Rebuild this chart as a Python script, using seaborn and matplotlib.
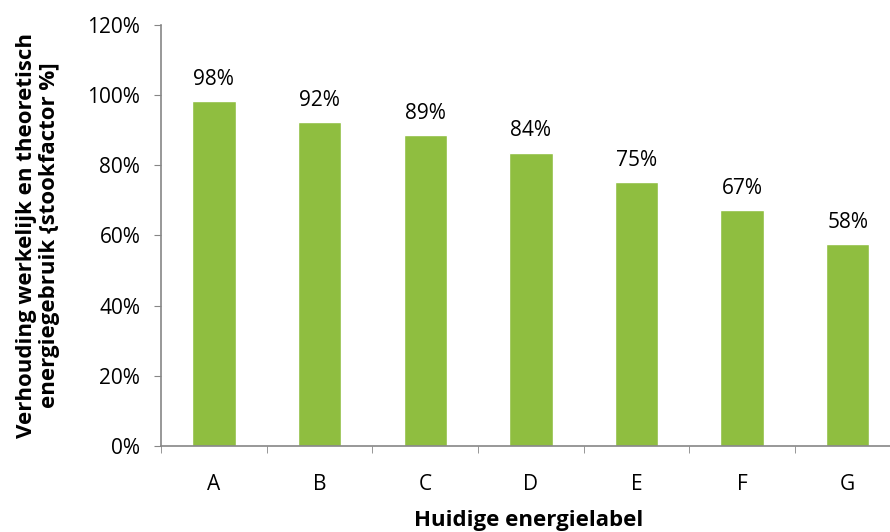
import seaborn as sns
import pandas as pd
import matplotlib.pyplot as plt
from matplotlib.ticker import PercentFormatter

labels = ['A', 'B', 'C', 'D', 'E', 'F', 'G']
values = [98.3, 92.3, 88.6, 83.6, 75.3, 67.3, 57.6]

df = pd.DataFrame({'label': labels, 'factor': values})

sns.set_style('white')
plt.rcParams['font.family'] = ['Open Sans', 'DejaVu Sans']
plt.rcParams['text.color'] = 'black'
plt.rcParams['axes.labelcolor'] = 'black'
plt.rcParams['xtick.color'] = 'black'
plt.rcParams['ytick.color'] = 'black'

fig = plt.figure(figsize=(8.9, 5.32), dpi=100)
ax = fig.add_axes([0.181, 0.162, 0.825, 0.791])
sns.barplot(data=df, x='label', y='factor', color='#8fbe40', width=0.41,
            saturation=1, ax=ax)

for i, v in enumerate(values):
    ax.text(i, v + 3.2, f'{round(v)}%', ha='center', va='bottom', fontsize=15)

ax.set_ylim(0, 120)
ax.set_yticks(range(0, 121, 20))
ax.yaxis.set_major_formatter(PercentFormatter(decimals=0))
ax.set_xlim(-0.5, 6.45)
ax.set_xticks([i - 0.5 for i in range(7)], minor=True)
ax.tick_params(axis='x', which='major', length=0, labelsize=15, pad=20)
ax.tick_params(axis='x', which='minor', length=5, color='#868686', direction='out')
ax.tick_params(axis='y', length=5, color='#868686', direction='out', labelsize=15, pad=10)
ax.xaxis.set_ticks_position('bottom')
ax.yaxis.set_ticks_position('left')

for s in ['top', 'right']:
    ax.spines[s].set_visible(False)
for s in ['left', 'bottom']:
    ax.spines[s].set_color('#868686')
    ax.spines[s].set_linewidth(1.2)

ax.set_xlabel('Huidige energielabel', fontsize=16, fontweight='bold', labelpad=11)
ax.set_ylabel('Verhouding werkelijk en theoretisch\nenergiegebruik {stookfactor %]',
              fontsize=16, fontweight='bold', labelpad=20, linespacing=1.1)

plt.savefig('out.png', dpi=100)
plt.close('all')
